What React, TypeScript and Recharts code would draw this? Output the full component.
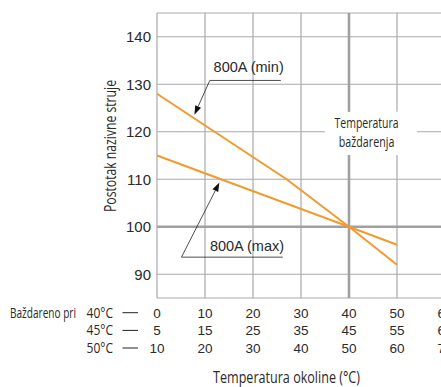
import React from 'react';
import {
  LineChart,
  Line,
  XAxis,
  YAxis,
  CartesianGrid,
  ReferenceLine,
  ReferenceArea,
  ReferenceDot,
} from 'recharts';

// ---- data ----
const ambientTicks = [0, 10, 20, 30, 40, 50, 60, 70];
const pctTicks = [85, 90, 100, 110, 120, 130, 140, 145];
const pctLabels = [90, 100, 110, 120, 130, 140];

const minTemps = [0, 27, 40, 50];
const minPct = [128, 110, 100, 92];
const maxTemps = [0, 40, 50];
const maxPct = [115, 100, 96.2];

const calibLabels = ['40°C', '45°C', '50°C'];
const row40 = [0, 10, 20, 30, 40, 50, 60, 70];
const row45 = [5, 15, 25, 35, 45, 55, 65, 75];
const row50 = [10, 20, 30, 40, 50, 60, 70, 80];
const calibRows = [row40, row45, row50];

const minData = minTemps.map((t, i) => ({ t, v: minPct[i] }));
const maxData = maxTemps.map((t, i) => ({ t, v: maxPct[i] }));

// ---- styles ----
const NUM_FONT = '"Liberation Sans", Arial, Helvetica, sans-serif';
const COND_FONT = '"Open Sans", "Noto Sans", sans-serif';
const GRID = '#a9a9ad';
const THICK = '#a0a0a4';
const ORANGE = '#f39a2e';
const INK = '#222';
const TXT = '#2a2a2a';

const Arrow = (props: any) => {
  const { x1, y1, x2, y2 } = props;
  const ang = Math.atan2(y2 - y1, x2 - x1);
  const L = 9;
  const W = 3.2;
  const bx = x2 - L * Math.cos(ang);
  const by = y2 - L * Math.sin(ang);
  const px = -Math.sin(ang) * W;
  const py = Math.cos(ang) * W;
  return (
    <g>
      <line x1={x1} y1={y1} x2={bx} y2={by} stroke={INK} strokeWidth={0.8} />
      <polygon points={`${x2},${y2} ${bx + px},${by + py} ${bx - px},${by - py}`} fill="#111" />
    </g>
  );
};

const CondText = (p: any) => (
  <text
    x={p.x}
    y={p.y}
    textAnchor={p.anchor || 'start'}
    fontFamily={COND_FONT}
    fontSize={p.size || 14}
    fill={TXT}
    textLength={p.len}
    lengthAdjust="spacingAndGlyphs"
    transform={p.transform}
  >
    {p.children}
  </text>
);

const TableTick = (props: any) => {
  const { x, y, payload, index } = props;
  const rowDy = [19.7, 37.4, 55];
  return (
    <g>
      {calibRows.map((row, r) => (
        <text
          key={r}
          x={x}
          y={y + rowDy[r]}
          textAnchor="middle"
          fontFamily={NUM_FONT}
          fontSize={13.5}
          fill={TXT}
        >
          {row[index]}
        </text>
      ))}
      {payload.value === ambientTicks[0] && (
        <g>
          <CondText x={x - 147} y={y + rowDy[0]} len={66} size={15}>
            Baždareno pri
          </CondText>
          {calibLabels.map((lab, r) => (
            <g key={lab}>
              <CondText x={x - 70.5} y={y + rowDy[r]} len={26.5} size={15}>
                {lab}
              </CondText>
              <line
                x1={x - 34.5}
                x2={x - 19}
                y1={y + rowDy[r] - 5}
                y2={y + rowDy[r] - 5}
                stroke="#222"
                strokeWidth={1}
              />
            </g>
          ))}
        </g>
      )}
    </g>
  );
};

const XTitle = (props: any) => {
  const { viewBox } = props;
  return (
    <CondText x={viewBox.x + 56} y={viewBox.y + 85} len={147} size={16.5}>
      Temperatura okoline (°C)
    </CondText>
  );
};

const YTitle = (props: any) => {
  const { viewBox } = props;
  const cx = viewBox.x + 116;
  const cy = viewBox.y + 133;
  return (
    <CondText
      x={cx}
      y={cy}
      anchor="middle"
      len={132}
      size={15.5}
      transform={`rotate(-90 ${cx} ${cy})`}
    >
      Postotak nazivne struje
    </CondText>
  );
};

const BoxLabel = (props: any) => {
  const { viewBox } = props;
  const cx = viewBox.x + viewBox.width / 2 - 4.5;
  const cy = viewBox.y + viewBox.height / 2;
  return (
    <g>
      <CondText x={cx} y={cy - 5.5} anchor="middle" len={64} size={15}>
        Temperatura
      </CondText>
      <CondText x={cx} y={cy + 13.5} anchor="middle" len={55.5} size={15}>
        baždarenja
      </CondText>
    </g>
  );
};

export default function App() {
  return (
    <div
      style={{
        position: 'absolute',
        left: 0,
        top: 0,
        width: 441,
        height: 387,
        overflow: 'hidden',
        background: '#fff',
      }}
    >
      <LineChart
        width={500}
        height={387}
        margin={{ top: 13, right: 7, left: 0, bottom: 0 }}
      >
        <CartesianGrid stroke={GRID} strokeWidth={1.2} />
        <XAxis
          type="number"
          dataKey="t"
          domain={[0, 70]}
          ticks={ambientTicks}
          interval={0}
          axisLine={false}
          tickLine={false}
          tickSize={0}
          tickMargin={0}
          height={89}
          tick={<TableTick />}
          label={<XTitle />}
        />
        <YAxis
          type="number"
          domain={[85, 145]}
          ticks={pctTicks}
          interval={0}
          width={157}
          axisLine={false}
          tickLine={false}
          tickSize={0}
          tickMargin={6}
          tickFormatter={(v: number) => (pctLabels.includes(v) ? String(v) : '')}
          tick={{ fontFamily: NUM_FONT, fontSize: 15, fill: TXT }}
          label={<YTitle />}
        />
        <ReferenceLine y={100} stroke={THICK} strokeWidth={2.6} />
        <ReferenceLine
          segment={[
            { x: 40, y: 85 },
            { x: 40, y: 115.1 },
          ]}
          stroke={THICK}
          strokeWidth={2.6}
        />
        <ReferenceLine
          segment={[
            { x: 40, y: 124.2 },
            { x: 40, y: 145 },
          ]}
          stroke={THICK}
          strokeWidth={2.6}
        />
        <ReferenceArea
          x1={35}
          x2={54.2}
          y1={115.1}
          y2={124.2}
          fill="#fff"
          fillOpacity={1}
          stroke="none"
          label={<BoxLabel />}
        />
        <Line
          data={minData}
          dataKey="v"
          type="linear"
          stroke={ORANGE}
          strokeWidth={2}
          dot={false}
          isAnimationActive={false}
        />
        <Line
          data={maxData}
          dataKey="v"
          type="linear"
          stroke={ORANGE}
          strokeWidth={2}
          dot={false}
          isAnimationActive={false}
        />
        {/* 800A (min) annotation */}
        <ReferenceLine
          segment={[
            { x: 11, y: 130.8 },
            { x: 25.8, y: 130.8 },
          ]}
          stroke={INK}
          strokeWidth={0.8}
        />
        <ReferenceLine
          segment={[
            { x: 11, y: 130.8 },
            { x: 7.8, y: 123.6 },
          ]}
          shape={Arrow}
        />
        <ReferenceDot
          x={19.1}
          y={133.7}
          r={0}
          fill="none"
          stroke="none"
          label={{ value: '800A (min)', position: 'center', fontFamily: NUM_FONT, fontSize: 14.5, fill: TXT }}
        />
        {/* 800A (max) annotation */}
        <ReferenceLine
          segment={[
            { x: 5.1, y: 93.6 },
            { x: 26.2, y: 93.6 },
          ]}
          stroke={INK}
          strokeWidth={0.8}
        />
        <ReferenceLine
          segment={[
            { x: 5.1, y: 93.6 },
            { x: 13, y: 109.3 },
          ]}
          shape={Arrow}
        />
        <ReferenceDot
          x={18.75}
          y={96}
          r={0}
          fill="none"
          stroke="none"
          label={{ value: '800A (max)', position: 'center', fontFamily: NUM_FONT, fontSize: 14.5, fill: TXT }}
        />
      </LineChart>
    </div>
  );
}
